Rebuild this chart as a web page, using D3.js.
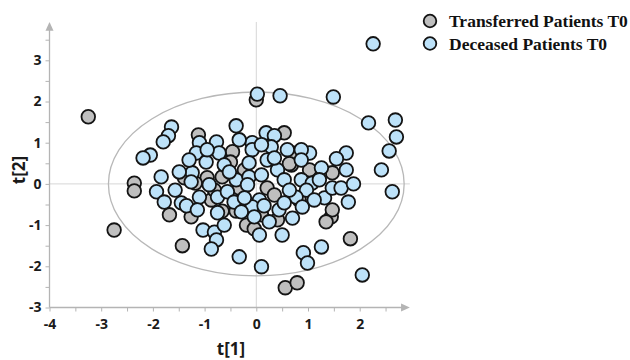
<!DOCTYPE html>
<html>
<head>
<meta charset="utf-8">
<script src="https://cdn.jsdelivr.net/npm/d3@7"></script>
<style>
  body { margin: 0; background: #fff; }
  svg { display: block; }
</style>
</head>
<body>
<div class="chart"></div>
<script>
// score plot t[1] vs t[2]
const transferredX = [-3.25, -2.75, -2.36, -2.36, -1.68, -1.26, -1.43, -1.12, -0.46, 0.54, 0.70, -0.50, 0.68, 1.47,
  -1.39, -0.95, -0.66, 0.21, -0.87, -0.66, -0.39, -0.19, -0.04, 1.45, 1.47, 1.82, 0.56, 0.79, 0.00, 0.64,
  0.41, 1.22, 1.35, -0.23, 0.35, 0.83, -0.81, 1.03, 0.10, -1.18, -0.33];
const transferredY = [1.63, -1.12, 0.02, -0.17, -0.75, -0.80, -1.50, 1.19, 0.78, 1.24, 0.75, 0.53, 0.46, 0.27,
  0.15, 0.15, 0.17, -0.10, -0.39, -0.66, -0.66, -1.00, -1.09, -0.80, -0.63, -1.33, -2.52, -2.40, 2.04, 0.49,
  -0.87, 0.22, -0.92, 0.34, -0.27, -0.39, -0.15, 0.34, -0.75, 0.02, -0.10];

const deceasedX = [2.26, 1.49, 2.17, 2.69, 2.71, 2.57, 2.42, 1.74, 1.55, 1.26, 1.03, 0.87, 0.02, 0.46, -0.39,
  -1.64, -1.70, -1.80, -2.05, -2.19, -1.10, -0.77, -1.16, -0.72, 0.19, 0.35, -0.08, 0.29, -0.08, -0.97,
  -0.14, 0.21, 0.87, 0.41, 1.74, -1.84, -1.24, -1.26, -0.39, -0.14, -0.17, 0.87, 1.08, 0.97, 0.77, 1.32,
  1.47, 1.64, 1.88, 1.78, 2.63, -1.93, -1.78, -1.45, -1.35, -1.10, -0.75, -0.56, -0.43, 0.06, -0.08, 0.15,
  0.44, -0.04, 0.06, 0.50, -1.03, -0.81, -0.77, -0.87, -0.33, 0.10, 0.91, 0.99, 1.26, 2.05, 0.70, 0.89,
  -0.91, -0.62, -0.33, 0.10, 0.54, 0.64, 0.35, -0.52, -0.75, -0.23, 0.25, 0.54, 1.12, 1.22, -1.30, -1.57,
  -0.95, 0.10, -0.29, -1.14, -0.62, 0.60, -1.49];
const deceasedY = [3.40, 2.11, 1.48, 1.55, 1.14, 0.80, 0.34, 0.75, 0.61, 0.39, 0.75, 0.83, 2.18, 2.14, 1.41,
  1.38, 1.17, 1.02, 0.70, 0.63, 1.00, 1.02, 0.75, 0.75, 1.24, 1.17, 1.00, 0.90, 0.83, 0.53,
  0.51, 0.58, 0.58, 0.34, 0.34, 0.17, 0.27, 0.05, 0.10, 0.17, -0.02, 0.10, 0.02, -0.15, -0.32, -0.34,
  -0.10, -0.10, 0.00, -0.44, -0.19, -0.19, -0.44, -0.46, -0.53, -0.32, -0.32, -0.19, -0.44, -0.39, -0.56, -0.53,
  -0.63, -0.80, -1.24, -1.24, -1.12, -1.17, -1.36, -1.58, -1.77, -2.01, -1.67, -1.92, -1.53, -2.21, -0.83, -0.56,
  -0.02, 0.46, 1.07, 0.22, 0.10, -0.15, 0.63, 0.29, -0.70, -0.34, -0.92, -0.46, -0.39, 0.10, 0.58, -0.15,
  0.83, 0.95, -0.68, -0.63, -1.00, 0.83, 0.29];

const xTicks = [-4, -3, -2, -1, 0, 1, 2];
const yTicks = [-3, -2, -1, 0, 1, 2, 3];
const ellipseR = [2.86, 2.23];
const seriesNames = ['Transferred Patients T0', 'Deceased Patients T0'];
const seriesColors = ['#bfbfbf', '#bde2f9'];

const width = 630, height = 360;
const svg = d3.select('.chart').append('svg')
  .attr('width', width)
  .attr('height', height);

const x = d3.scaleLinear().domain([-4, 3]).range([49.5, 411.4]);
const y = d3.scaleLinear().domain([-3, 4]).range([307.5, 19.1]);

const axisColor = '#b4b4b4';

// zero lines
svg.append('line')
  .attr('x1', x(0)).attr('x2', x(0))
  .attr('y1', y(3.93)).attr('y2', y(-3))
  .attr('stroke', '#d6d6d6').attr('stroke-width', 1);
svg.append('line')
  .attr('x1', x(-4)).attr('x2', x(2.97))
  .attr('y1', y(0)).attr('y2', y(0))
  .attr('stroke', '#d6d6d6').attr('stroke-width', 1);

// ellipse
svg.append('ellipse')
  .attr('cx', x(0)).attr('cy', y(0))
  .attr('rx', x(ellipseR[0]) - x(0))
  .attr('ry', y(0) - y(ellipseR[1]))
  .attr('fill', 'none')
  .attr('stroke', '#b8b8b8')
  .attr('stroke-width', 1.3);

// axes (minor ticks at half units, labels only on integers)
const halfX = d3.range(-4, 3, 0.5);
const halfY = d3.range(-3, 4, 0.5);
const xAxis = d3.axisBottom(x)
  .tickValues(halfX)
  .tickSize(4)
  .tickSizeOuter(0)
  .tickFormat(d => xTicks.includes(d) ? String(d) : '');
const yAxis = d3.axisLeft(y)
  .tickValues(halfY)
  .tickSize(4)
  .tickSizeOuter(0)
  .tickFormat(d => yTicks.includes(d) ? String(d) : '');

const xg = svg.append('g')
  .attr('transform', `translate(0,${y(-3)})`)
  .call(xAxis);
const yg = svg.append('g')
  .attr('transform', `translate(${x(-4)},0)`)
  .call(yAxis);

[xg, yg].forEach(g => {
  g.select('.domain').remove();
  g.selectAll('line').attr('stroke', axisColor);
  g.selectAll('text')
    .attr('fill', '#1a1a1a')
    .style('font-family', '"Open Sans", sans-serif')
    .style('font-weight', 'bold')
    .style('font-size', '14px');
});
xg.selectAll('text').attr('dy', '1.05em');
yg.selectAll('text').attr('x', -8);

// axis lines with arrows
svg.append('line')
  .attr('x1', x(-4)).attr('x2', x(2.82))
  .attr('y1', y(-3)).attr('y2', y(-3))
  .attr('stroke', axisColor).attr('stroke-width', 1.3);
svg.append('path')
  .attr('d', `M${x(2.97)},${y(-3)} L${x(2.8)},${y(-3) - 4} L${x(2.8)},${y(-3) + 4} Z`)
  .attr('fill', axisColor);
svg.append('line')
  .attr('x1', x(-4)).attr('x2', x(-4))
  .attr('y1', y(-3)).attr('y2', y(3.75))
  .attr('stroke', axisColor).attr('stroke-width', 1.3);
svg.append('path')
  .attr('d', `M${x(-4)},${y(3.93)} L${x(-4) - 4},${y(3.72)} L${x(-4) + 4},${y(3.72)} Z`)
  .attr('fill', axisColor);

// axis titles
svg.append('text')
  .attr('x', 231).attr('y', 355)
  .attr('text-anchor', 'middle')
  .attr('fill', '#1a1a1a')
  .style('font-family', '"Open Sans", sans-serif')
  .style('font-weight', 'bold')
  .style('font-size', '17px')
  .text('t[1]');
svg.append('text')
  .attr('transform', 'translate(25,170) rotate(-90)')
  .attr('text-anchor', 'middle')
  .attr('fill', '#1a1a1a')
  .style('font-family', '"Open Sans", sans-serif')
  .style('font-weight', 'bold')
  .style('font-size', '17px')
  .text('t[2]');

// points
const transferred = transferredX.map((v, i) => ({t1: v, t2: transferredY[i]}));
const deceased = deceasedX.map((v, i) => ({t1: v, t2: deceasedY[i]}));

[transferred, deceased].forEach((data, k) => {
  svg.append('g').selectAll('circle')
    .data(data)
    .enter()
    .append('circle')
    .attr('cx', d => x(d.t1))
    .attr('cy', d => y(d.t2))
    .attr('r', 6.8)
    .attr('fill', seriesColors[k])
    .attr('stroke', '#141414')
    .attr('stroke-width', 1.8);
});

// legend
const legend = svg.append('g').attr('transform', 'translate(430,21)');
seriesNames.forEach((name, i) => {
  const row = legend.append('g').attr('transform', `translate(0,${i * 22.5})`);
  row.append('circle')
    .attr('r', 6.3)
    .attr('fill', seriesColors[i])
    .attr('stroke', '#141414')
    .attr('stroke-width', 1.8);
  row.append('text')
    .attr('x', 19).attr('y', 6)
    .attr('fill', '#111')
    .style('font-family', '"Liberation Serif", "Times New Roman", serif')
    .style('font-weight', 'bold')
    .style('font-size', '17.5px')
    .text(name);
});
</script>
</body>
</html>
